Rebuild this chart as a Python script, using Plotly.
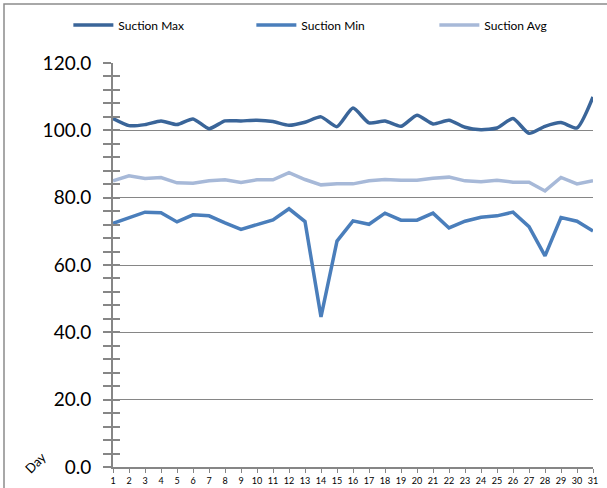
import plotly.graph_objects as go

days = list(range(1, 32))
day_labels = [str(d) for d in days]
suction_max = [103.5, 101.4, 101.7, 102.8, 101.7, 103.4, 100.5, 102.8, 102.8, 103.0,
               102.6, 101.5, 102.4, 104.0, 101.1, 106.6, 102.2, 102.8, 101.2, 104.5,
               101.9, 103.0, 100.9, 100.2, 100.7, 103.5, 99.1, 101.2, 102.3, 100.7, 109.9]
suction_min = [72.4, 74.0, 75.7, 75.5, 72.8, 74.9, 74.6, 72.5, 70.6, 72.0,
               73.4, 76.7, 72.9, 44.6, 67.1, 73.1, 72.1, 75.4, 73.3, 73.3,
               75.4, 71.0, 73.0, 74.2, 74.6, 75.7, 71.4, 62.7, 74.1, 73.0, 70.1]
suction_avg = [85.0, 86.5, 85.7, 86.0, 84.4, 84.3, 85.0, 85.3, 84.5, 85.3,
               85.3, 87.4, 85.4, 83.8, 84.1, 84.1, 85.0, 85.4, 85.2, 85.2,
               85.8, 86.1, 85.0, 84.7, 85.2, 84.6, 84.6, 82.0, 86.0, 84.1, 85.0]
y_ticks = [0, 20, 40, 60, 80, 100, 120]
y_tick_labels = ["0.0", "20.0", "40.0", "60.0", "80.0", "100.0", "120.0"]

FONT = "Lato"
GRAY = "#868686"

fig = go.Figure()
fig.add_trace(go.Scatter(x=days, y=suction_max, name="Suction Max", mode="lines",
                         line=dict(color="#3A6599", width=3.5, shape="spline", smoothing=0.6)))
fig.add_trace(go.Scatter(x=days, y=suction_min, name="Suction Min", mode="lines",
                         line=dict(color="#4A7EBB", width=3.5)))
fig.add_trace(go.Scatter(x=days, y=suction_avg, name="Suction Avg", mode="lines",
                         line=dict(color="#A7B9D8", width=3.5)))
# invisible trace to realize an overlay axis for inward tick marks
fig.add_trace(go.Scatter(x=days, y=suction_avg, yaxis="y2", mode="lines", opacity=0,
                         showlegend=False, hoverinfo="skip"))

fig.update_layout(
    width=607, height=488,
    margin=dict(l=113, r=14, t=63, b=21, autoexpand=False),
    paper_bgcolor="white", plot_bgcolor="white",
    font=dict(family=FONT, color="black"),
    showlegend=True,
    legend=dict(orientation="h", x=-0.093, xanchor="left", y=1.094, yanchor="middle",
                font=dict(family=FONT, size=12), entrywidth=128, entrywidthmode="pixels",
                itemwidth=40, bgcolor="rgba(0,0,0,0)", traceorder="normal"),
    xaxis=dict(range=[1, 31], tickmode="array", tickvals=days, ticktext=day_labels,
               tickfont=dict(size=9, family=FONT), ticks="outside", ticklen=4, tickcolor=GRAY,
               showline=True, linecolor=GRAY, linewidth=2, showgrid=False, zeroline=False),
    yaxis=dict(range=[0, 120], tickmode="array", tickvals=y_ticks, ticktext=y_tick_labels,
               tickfont=dict(size=19, family=FONT), ticks="outside", ticklen=8, tickcolor=GRAY,
               tickwidth=1.5, ticklabelstandoff=8,
               minor=dict(dtick=4, ticks="outside", ticklen=8, tickcolor=GRAY, showgrid=False),
               showline=True, linecolor=GRAY, linewidth=2,
               showgrid=True, gridcolor=GRAY, gridwidth=1, zeroline=False),
    yaxis2=dict(range=[0, 120], overlaying="y", side="left", anchor="x",
                tickmode="array", tickvals=y_ticks, showticklabels=False,
                ticks="inside", ticklen=7, tickcolor=GRAY, tickwidth=1.5,
                minor=dict(dtick=4, ticks="inside", ticklen=7, tickcolor=GRAY, showgrid=False),
                showgrid=False, zeroline=False, showline=False),
    annotations=[dict(text="Day", textangle=-45, xref="paper", yref="paper",
                      x=(35 - 113) / 480, y=(467 - 463) / 404, xanchor="center", yanchor="middle",
                      showarrow=False, font=dict(family=FONT, size=13, color="black"))],
    shapes=[dict(type="rect", xref="paper", yref="paper",
                 x0=(4 - 113) / 480, x1=1.2, y0=-0.2, y1=(467 - 4) / 404,
                 line=dict(color="#8C8C8C", width=1.5), layer="below")],
)

fig.write_html("out.html", config={"displayModeBar": False},
               post_script="document.body.style.margin='0';")
